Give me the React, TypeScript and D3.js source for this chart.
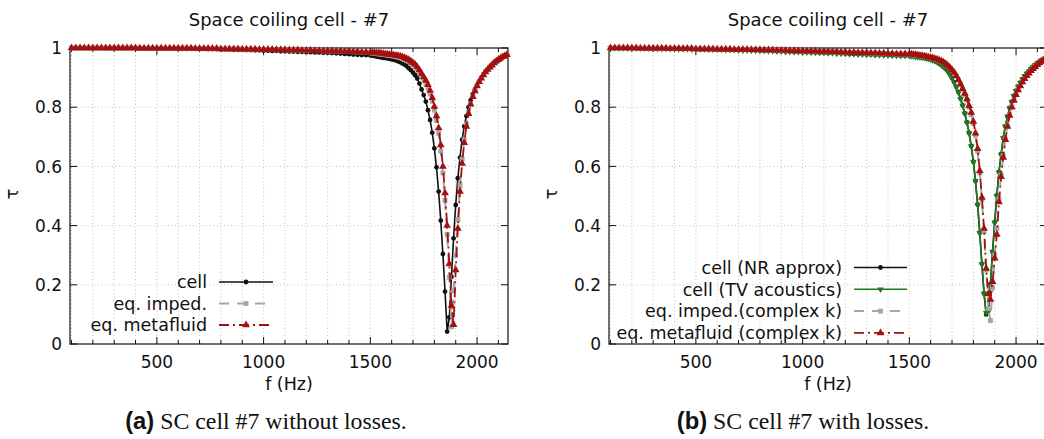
import React from 'react';
import * as d3 from 'd3';

// sampling grid (Hz): coarse on the flat part, 10 Hz around the dip
const freqFlat = [
  100, 120, 140, 160, 180, 200, 220, 240, 260, 280,
  300, 320, 340, 360, 380, 400, 420, 440, 460, 480,
  500, 520, 540, 560, 580, 600, 620, 640, 660, 680,
  700, 720, 740, 760, 780, 800, 820, 840, 860, 880,
  900, 920, 940, 960, 980, 1000, 1020, 1040, 1060, 1080,
  1100, 1120, 1140, 1160, 1180, 1200, 1220, 1240, 1260, 1280,
  1300, 1320, 1340, 1360, 1380, 1400, 1420, 1440, 1460, 1480,
];
const freqDip = [
  1500, 1510, 1520, 1530, 1540, 1550, 1560, 1570, 1580, 1590,
  1600, 1610, 1620, 1630, 1640, 1650, 1660, 1670, 1680, 1690,
  1700, 1710, 1720, 1730, 1740, 1750, 1760, 1770, 1780, 1790,
  1800, 1810, 1820, 1830, 1840, 1850, 1860, 1870, 1880, 1890,
  1900, 1910, 1920, 1930, 1940, 1950, 1960, 1970, 1980, 1990,
  2000, 2010, 2020, 2030, 2040, 2050, 2060, 2070, 2080, 2090,
  2100, 2110, 2120, 2130, 2140,
];

// flat parts (100 - 1480 Hz)
const cellFlat = [
  1, 1, 1, 1, 1, 1, 1, 1, 0.999, 0.999,
  0.999, 0.999, 0.999, 0.999, 0.999, 0.999, 0.999, 0.998, 0.998, 0.998,
  0.998, 0.998, 0.998, 0.998, 0.998, 0.997, 0.997, 0.997, 0.997, 0.997,
  0.997, 0.997, 0.996, 0.996, 0.996, 0.995, 0.995, 0.995, 0.994, 0.994,
  0.994, 0.993, 0.993, 0.992, 0.992, 0.991, 0.991, 0.99, 0.99, 0.989,
  0.989, 0.988, 0.988, 0.987, 0.987, 0.986, 0.986, 0.985, 0.985, 0.984,
  0.984, 0.983, 0.982, 0.981, 0.98, 0.979, 0.978, 0.977, 0.976, 0.976,
];
const eqFlat = [
  1, 1, 1, 1, 1, 1, 1, 1, 1, 1,
  1, 1, 1, 1, 1, 1, 0.999, 0.999, 0.999, 0.999,
  0.999, 0.999, 0.999, 0.999, 0.999, 0.999, 0.999, 0.999, 0.999, 0.998,
  0.998, 0.998, 0.998, 0.998, 0.998, 0.997, 0.997, 0.997, 0.997, 0.997,
  0.996, 0.996, 0.996, 0.996, 0.995, 0.995, 0.995, 0.995, 0.994, 0.994,
  0.994, 0.993, 0.993, 0.993, 0.992, 0.992, 0.992, 0.991, 0.991, 0.99,
  0.99, 0.99, 0.989, 0.989, 0.988, 0.988, 0.987, 0.987, 0.986, 0.986,
];
const lossyCellFlat = [
  1, 1, 1, 1, 0.999, 0.999, 0.999, 0.999, 0.999, 0.999,
  0.998, 0.998, 0.998, 0.998, 0.998, 0.997, 0.997, 0.997, 0.997, 0.996,
  0.996, 0.996, 0.996, 0.995, 0.995, 0.995, 0.995, 0.994, 0.994, 0.994,
  0.993, 0.993, 0.993, 0.992, 0.992, 0.991, 0.991, 0.99, 0.99, 0.989,
  0.989, 0.988, 0.988, 0.987, 0.987, 0.986, 0.986, 0.985, 0.985, 0.984,
  0.984, 0.983, 0.983, 0.982, 0.982, 0.981, 0.98, 0.98, 0.979, 0.979,
  0.978, 0.978, 0.977, 0.977, 0.976, 0.976, 0.975, 0.975, 0.974, 0.974,
];
const lossyEqFlat = [
  1, 1, 1, 1, 1, 1, 1, 0.999, 0.999, 0.999,
  0.999, 0.999, 0.999, 0.999, 0.998, 0.998, 0.998, 0.998, 0.998, 0.998,
  0.997, 0.997, 0.997, 0.997, 0.997, 0.996, 0.996, 0.996, 0.996, 0.995,
  0.995, 0.995, 0.995, 0.994, 0.994, 0.994, 0.993, 0.993, 0.993, 0.992,
  0.992, 0.992, 0.991, 0.991, 0.99, 0.99, 0.99, 0.989, 0.989, 0.988,
  0.988, 0.988, 0.987, 0.987, 0.986, 0.986, 0.985, 0.985, 0.984, 0.984,
  0.984, 0.983, 0.983, 0.982, 0.982, 0.981, 0.981, 0.98, 0.98, 0.98,
];

// (a) without losses, 1500 - 2140 Hz
const cellDip = [
  0.975, 0.974, 0.973, 0.971, 0.97, 0.968, 0.967, 0.966, 0.965, 0.963,
  0.962, 0.96, 0.958, 0.955, 0.952, 0.948, 0.944, 0.939, 0.932, 0.925,
  0.917, 0.908, 0.897, 0.88, 0.86, 0.841, 0.819, 0.79, 0.757, 0.714,
  0.661, 0.597, 0.515, 0.417, 0.304, 0.177, 0.042, 0.09, 0.227, 0.357,
  0.47, 0.56, 0.63, 0.69, 0.735, 0.77, 0.8, 0.823, 0.843, 0.86,
  0.875, 0.888, 0.9, 0.91, 0.92, 0.928, 0.936, 0.943, 0.95, 0.956,
  0.961, 0.966, 0.97, 0.974, 0.977,
];
const impedDip = [
  0.984, 0.983, 0.982, 0.981, 0.98, 0.979, 0.978, 0.977, 0.976, 0.975,
  0.974, 0.972, 0.971, 0.969, 0.967, 0.964, 0.961, 0.958, 0.954, 0.949,
  0.944, 0.938, 0.93, 0.92, 0.908, 0.895, 0.881, 0.865, 0.845, 0.82,
  0.79, 0.755, 0.712, 0.652, 0.578, 0.485, 0.37, 0.225, 0.058, 0.18,
  0.3, 0.42, 0.535, 0.625, 0.69, 0.742, 0.782, 0.812, 0.836, 0.856,
  0.873, 0.887, 0.899, 0.91, 0.92, 0.928, 0.936, 0.943, 0.95, 0.956,
  0.961, 0.966, 0.97, 0.974, 0.977,
];
const metaDip = [
  0.985, 0.985, 0.984, 0.983, 0.983, 0.982, 0.981, 0.98, 0.979, 0.978,
  0.977, 0.976, 0.975, 0.974, 0.972, 0.97, 0.967, 0.964, 0.96, 0.955,
  0.95, 0.944, 0.936, 0.926, 0.914, 0.902, 0.89, 0.876, 0.856, 0.832,
  0.802, 0.77, 0.73, 0.672, 0.6, 0.51, 0.4, 0.27, 0.13, 0.065,
  0.25, 0.39, 0.515, 0.61, 0.68, 0.735, 0.778, 0.81, 0.835, 0.855,
  0.872, 0.886, 0.898, 0.909, 0.919, 0.927, 0.935, 0.942, 0.949, 0.955,
  0.96, 0.965, 0.97, 0.973, 0.977,
];

// (b) with losses, 1500 - 2140 Hz
const nrDip = [
  0.974, 0.973, 0.972, 0.971, 0.97, 0.969, 0.968, 0.967, 0.965, 0.964,
  0.962, 0.959, 0.956, 0.953, 0.948, 0.943, 0.937, 0.93, 0.922, 0.911,
  0.899, 0.885, 0.869, 0.851, 0.829, 0.806, 0.779, 0.749, 0.713, 0.669,
  0.616, 0.551, 0.471, 0.376, 0.271, 0.171, 0.1, 0.112, 0.202, 0.312,
  0.412, 0.502, 0.581, 0.641, 0.696, 0.736, 0.769, 0.798, 0.819, 0.839,
  0.856, 0.87, 0.883, 0.895, 0.905, 0.914, 0.922, 0.93, 0.937, 0.943,
  0.949, 0.954, 0.959, 0.963, 0.967,
];
const tvDip = [
  0.974, 0.973, 0.972, 0.971, 0.97, 0.969, 0.968, 0.967, 0.965, 0.964,
  0.962, 0.959, 0.956, 0.953, 0.948, 0.943, 0.937, 0.93, 0.922, 0.91,
  0.898, 0.884, 0.868, 0.85, 0.828, 0.805, 0.778, 0.748, 0.712, 0.668,
  0.615, 0.55, 0.47, 0.375, 0.27, 0.17, 0.105, 0.11, 0.2, 0.31,
  0.41, 0.5, 0.58, 0.64, 0.695, 0.735, 0.768, 0.797, 0.818, 0.838,
  0.855, 0.869, 0.882, 0.894, 0.904, 0.913, 0.921, 0.929, 0.936, 0.942,
  0.948, 0.953, 0.958, 0.962, 0.966,
];
const impedKDip = [
  0.979, 0.978, 0.977, 0.976, 0.975, 0.974, 0.973, 0.971, 0.97, 0.968,
  0.967, 0.965, 0.963, 0.961, 0.958, 0.955, 0.951, 0.946, 0.94, 0.933,
  0.925, 0.916, 0.905, 0.892, 0.877, 0.86, 0.843, 0.824, 0.8, 0.775,
  0.745, 0.705, 0.652, 0.578, 0.488, 0.38, 0.25, 0.12, 0.079, 0.19,
  0.3, 0.39, 0.49, 0.57, 0.635, 0.692, 0.737, 0.774, 0.802, 0.825,
  0.844, 0.86, 0.874, 0.886, 0.897, 0.907, 0.916, 0.924, 0.931, 0.938,
  0.944, 0.95, 0.955, 0.96, 0.964,
];
const metaKDip = [
  0.98, 0.979, 0.978, 0.977, 0.976, 0.975, 0.974, 0.972, 0.971, 0.969,
  0.968, 0.966, 0.964, 0.962, 0.959, 0.956, 0.952, 0.947, 0.941, 0.934,
  0.926, 0.917, 0.906, 0.893, 0.878, 0.862, 0.846, 0.828, 0.805, 0.782,
  0.752, 0.712, 0.66, 0.585, 0.495, 0.39, 0.255, 0.17, 0.15, 0.21,
  0.29, 0.37, 0.48, 0.565, 0.63, 0.69, 0.735, 0.772, 0.8, 0.823,
  0.842, 0.858, 0.872, 0.885, 0.896, 0.906, 0.915, 0.923, 0.93, 0.937,
  0.943, 0.949, 0.954, 0.959, 0.963,
];

const yTickValues = [0, 0.2, 0.4, 0.6, 0.8, 1];
const xTickLabels = [500, 1000, 1500, 2000];
const titleText = 'Space coiling cell - #7';

const freq = freqFlat.concat(freqDip);

type Shape = 'circle' | 'square' | 'tri' | 'triDown';
type Series = {
  label: string;
  values: number[];
  color: string;
  width: number;
  dash?: string;
  shape: Shape;
};

const BLACK = '#111111';
const GREY = '#a6a6a6';
const RED = '#a3100f';
const GREEN = '#1f7a1f';

const seriesA: Series[] = [
  { label: 'cell', values: cellFlat.concat(cellDip), color: BLACK, width: 1.6, shape: 'circle' },
  { label: 'eq. imped.', values: eqFlat.concat(impedDip), color: GREY, width: 2, dash: '10,8', shape: 'square' },
  { label: 'eq. metafluid', values: eqFlat.concat(metaDip), color: RED, width: 1.8, dash: '10,4,2,4', shape: 'tri' },
];
const seriesB: Series[] = [
  { label: 'cell (NR approx)', values: lossyCellFlat.concat(nrDip), color: BLACK, width: 1.6, shape: 'circle' },
  { label: 'cell (TV acoustics)', values: lossyCellFlat.concat(tvDip), color: GREEN, width: 1.6, shape: 'triDown' },
  { label: 'eq. imped.(complex k)', values: lossyEqFlat.concat(impedKDip), color: GREY, width: 2, dash: '10,8', shape: 'square' },
  { label: 'eq. metafluid (complex k)', values: lossyEqFlat.concat(metaKDip), color: RED, width: 1.8, dash: '10,4,2,4', shape: 'tri' },
];

const FONT = '"DejaVu Sans", sans-serif';
const plotW = 438;
const yTop = 48;
const yBot = 344;
const fDomain = [93, 2145];

function symbolPath(shape: Shape): string {
  const gen = d3.symbol();
  if (shape === 'circle') return gen.type(d3.symbolCircle).size(18)() as string;
  if (shape === 'square') return gen.type(d3.symbolSquare).size(24)() as string;
  return gen.type(d3.symbolTriangle).size(shape === 'tri' ? 26 : 19)() as string;
}

function Marker({ shape, x, y, color }: { shape: Shape; x: number; y: number; color: string }) {
  const rot = shape === 'triDown' ? ' rotate(180)' : '';
  return <path d={symbolPath(shape)} transform={`translate(${x},${y})${rot}`} fill={color} />;
}

type PanelProps = {
  left: number;
  series: Series[];
  legendTextX: number;
  legendLine: [number, number];
  legendTop: number;
  legendStep: number;
  tag: string;
  caption: string;
  captionX: number;
};

function Panel(p: PanelProps) {
  const x = d3.scaleLinear().domain(fDomain).range([p.left, p.left + plotW]);
  const y = d3.scaleLinear().domain([0, 1]).range([yBot, yTop]);
  const minor = x.ticks(20);
  const line = d3
    .line<number>()
    .x((_, i) => x(freq[i]))
    .y((v) => y(v));
  const right = p.left + plotW;
  const cx = p.left + plotW / 2;
  const lm = (p.legendLine[0] + p.legendLine[1]) / 2;

  return (
    <g>
      <text x={cx} y={26} textAnchor="middle" fontSize={18} fill="#111">
        {titleText}
      </text>
      {/* grid */}
      {minor.map((f) => (
        <line key={'gx' + f} x1={x(f)} x2={x(f)} y1={yTop} y2={yBot} stroke="#c4c4c4" strokeDasharray="1,2.5" />
      ))}
      {yTickValues.slice(1, -1).map((t) => (
        <line key={'gy' + t} x1={p.left} x2={right} y1={y(t)} y2={y(t)} stroke="#c4c4c4" strokeDasharray="1,2.5" />
      ))}
      {/* frame and ticks */}
      <rect x={p.left} y={yTop} width={plotW} height={yBot - yTop} fill="none" stroke="#111" strokeWidth={1.2} />
      {minor.map((f) => {
        const len = f % 500 === 0 ? 7 : 4;
        return (
          <g key={'tx' + f} stroke="#111" strokeWidth={1}>
            <line x1={x(f)} x2={x(f)} y1={yBot} y2={yBot - len} />
            <line x1={x(f)} x2={x(f)} y1={yTop} y2={yTop + len} />
          </g>
        );
      })}
      {yTickValues.map((t) => (
        <g key={'ty' + t} stroke="#111" strokeWidth={1}>
          <line x1={p.left} x2={p.left + 7} y1={y(t)} y2={y(t)} />
          <line x1={right} x2={right - 7} y1={y(t)} y2={y(t)} />
        </g>
      ))}
      {yTickValues.map((t) => (
        <text key={'ly' + t} x={p.left - 8} y={y(t)} dy="0.36em" textAnchor="end" fontSize={17} fill="#111">
          {String(t)}
        </text>
      ))}
      {xTickLabels.map((f) => (
        <text key={'lx' + f} x={x(f)} y={368} textAnchor="middle" fontSize={17} fill="#111">
          {f}
        </text>
      ))}
      <text x={cx} y={390} textAnchor="middle" fontSize={17.5} fill="#111">
        f (Hz)
      </text>
      <text transform={`translate(${p.left - 58},194) rotate(-90)`} dy="0.36em" textAnchor="middle" fontSize={17.5} fill="#111">
        τ
      </text>
      {/* curves */}
      {p.series.map((s) => (
        <g key={s.label}>
          <path d={line(s.values) as string} fill="none" stroke={s.color} strokeWidth={s.width} strokeDasharray={s.dash} strokeLinejoin="round" />
          {s.values.map((v, i) => (
            <Marker key={i} shape={s.shape} x={x(freq[i])} y={y(v)} color={s.color} />
          ))}
        </g>
      ))}
      {/* legend */}
      {p.series.map((s, i) => {
        const ly = p.legendTop + i * p.legendStep;
        return (
          <g key={'lg' + s.label}>
            <text x={p.legendTextX} y={ly} dy="0.36em" textAnchor="end" fontSize={17.5} fill="#111">
              {s.label}
            </text>
            <line x1={p.legendLine[0]} x2={p.legendLine[1]} y1={ly} y2={ly} stroke={s.color} strokeWidth={s.width} strokeDasharray={s.dash} />
            <Marker shape={s.shape} x={lm} y={ly} color={s.color} />
          </g>
        );
      })}
      {/* caption */}
      <text x={p.captionX} y={429} textAnchor="middle" fontSize={23.8} fill="#111" fontFamily='"Liberation Serif", serif'>
        <tspan fontFamily='"Liberation Sans", sans-serif' fontWeight="bold">{p.tag}</tspan>
        {' ' + p.caption}
      </text>
    </g>
  );
}

export default function App() {
  return (
    <svg
      width={1044}
      height={439}
      viewBox="0 0 1044 439"
      style={{ position: 'absolute', left: 0, top: 0, background: '#fff' }}
      fontFamily={FONT}
    >
      <rect width={1044} height={439} fill="#fff" />
      <Panel
        left={70}
        series={seriesA}
        legendTextX={207}
        legendLine={[219, 273]}
        legendTop={282}
        legendStep={21.5}
        tag="(a)"
        caption="SC cell #7 without losses."
        captionX={266}
      />
      <Panel
        left={609}
        series={seriesB}
        legendTextX={842}
        legendLine={[854, 907]}
        legendTop={267.5}
        legendStep={21.8}
        tag="(b)"
        caption="SC cell #7 with losses."
        captionX={803}
      />
    </svg>
  );
}
